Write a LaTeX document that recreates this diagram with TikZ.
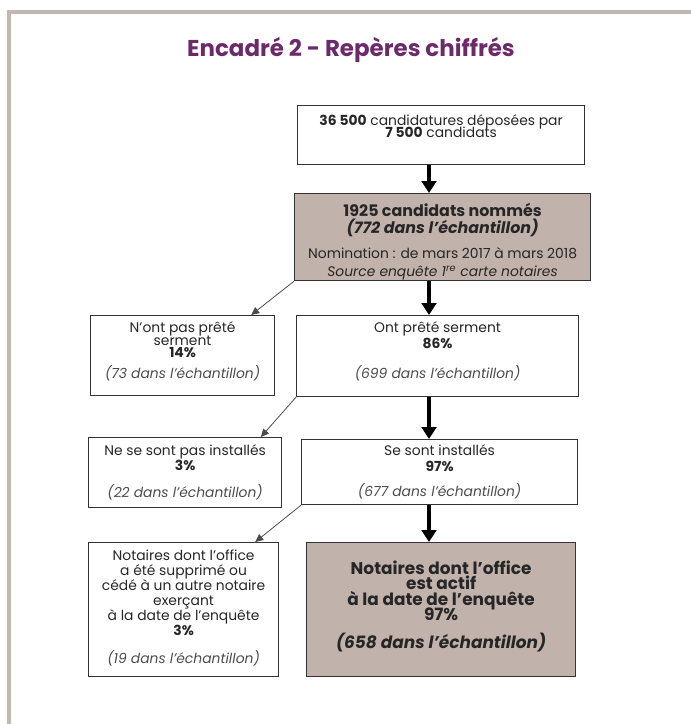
\documentclass[tikz,border=0pt]{standalone}
\usepackage{fontspec}
\setmainfont{Poppins}
\usepackage{xcolor}
\usetikzlibrary{arrows.meta}
\definecolor{framecol}{RGB}{196,182,176}
\definecolor{taupe}{RGB}{194,178,172}
\definecolor{titlecol}{RGB}{108,42,106}
\setlength{\lineskiplimit}{-20pt}
\setlength{\lineskip}{0pt}

\begin{document}
\begin{tikzpicture}[x=0.75pt,y=-0.75pt,%
% common options for boxes:
box/.style = {draw=black!80, line width=0.9pt, align=center, anchor=north west,
            inner sep=0, text=black!85, font=\fontsize{10.4}{10}\selectfont},
% the coloured boxes:
shaded/.style = {box, fill=taupe},
% common options for the arrows:
bigarrow/.style = {line width=3.6pt, -{Triangle[length=9pt,width=11pt]}},
smallarrow/.style = {draw=black!70, line width=0.6pt, -{Triangle[length=6pt,width=5.5pt]}}]
\useasboundingbox (0,0) rectangle (691,724);

% frame and title
\draw[framecol, line width=2.5pt] (9,724) -- (9,12) -- (691,12);
\node[text=titlecol, font=\fontsize{17.2}{20}\selectfont\bfseries] (T0) at (351,50) {Encadré 2 - Repères chiffrés};

% centre line of the big arrows
\coordinate (axis) at (429,0);

% first level
\node[box, minimum width=215.25pt, minimum height=44.25pt] (A1) at (297,105)
  {\textbf{36 500} candidatures déposées par\\[-1pt] \textbf{7 500} candidats\\[3pt]\mbox{}};
\node[shaded, minimum width=222pt, minimum height=65.25pt] (A2) at (294,193)
  {\mbox{}\\[7pt]
   {\fontsize{11.9}{13}\selectfont\bfseries 1925 candidats nommés}\\[2.75pt]
   {\fontsize{11.9}{13}\selectfont\bfseries\itshape (772 dans l'échantillon)}\\[8.75pt]
   Nomination : de mars 2017 à mars 2018\\[3.5pt]
   \textit{Source enquête 1\textsuperscript{re} carte notaires}};

% second level
\node[box, minimum width=138pt, minimum height=60pt] (B1) at (90,315)
  {N'ont pas prêté\\[-0.25pt] serment\\[-1pt] \textbf{14\%}\\[5.75pt]
   \textit{\color{black!70}(73 dans l'échantillon)}\\[-1pt]\mbox{}};
\node[box, minimum width=211.5pt, minimum height=60.75pt] (B2) at (296,315)
  {Ont prêté serment\\[2pt] \textbf{86\%}\\[12.5pt]
   \textit{\color{black!70}(699 dans l'échantillon)}\\[-0.25pt]\mbox{}};

% third level
\node[box, minimum width=144.75pt, minimum height=52.5pt] (C1) at (88,437)
  {Ne se sont pas installés\\[1.25pt] \textbf{3\%}\\[10.25pt]
   \textit{\color{black!70}(22 dans l'échantillon)}};
\node[box, minimum width=207pt, minimum height=48.75pt] (C2) at (301,439)
  {Se sont installés\\[2pt] \textbf{97\%}\\[8.75pt]
   \textit{\color{black!70}(677 dans l'échantillon)}};

% fourth level
\node[box, minimum width=142.5pt, minimum height=100.5pt] (D1) at (88,542)
  {Notaires dont l'office\\[1.25pt] a été supprimé ou\\[1.25pt] cédé à un autre notaire\\[1.25pt]
   exerçant\\[1.25pt] à la date de l'enquête\\[1.25pt] \textbf{3\%}\\[11pt]
   \textit{\color{black!70}(19 dans l'échantillon)}\\[-5pt]\mbox{}};
\node[shaded, minimum width=201.75pt, minimum height=100.5pt,
      font=\fontsize{12.7}{10}\selectfont\bfseries] (D2) at (306,542)
  {Notaires dont l'office\\[1.5pt] est actif\\[2pt] à la date de l'enquête\\[1.25pt] 97\%\\[11pt]
   \itshape (658 dans l'échantillon)\\[-2.5pt]\mbox{}};

% arrows
\draw[bigarrow] (A1.south -| axis) -- (A2.north -| axis);
\draw[bigarrow] (A2.south -| axis) -- (B2.north -| axis);
\draw[bigarrow] (B2.south -| axis) -- (C2.north -| axis);
\draw[bigarrow] (C2.south -| axis) -- (D2.north -| axis);
\draw[smallarrow] (A2.south west) -- ([xshift=-18pt]B1.north east);
\draw[smallarrow] (B2.south west) -- ([xshift=-16pt]C1.north east);
\draw[smallarrow] (C2.south west) -- ([xshift=-18pt]D1.north east);
\end{tikzpicture}
\end{document}
